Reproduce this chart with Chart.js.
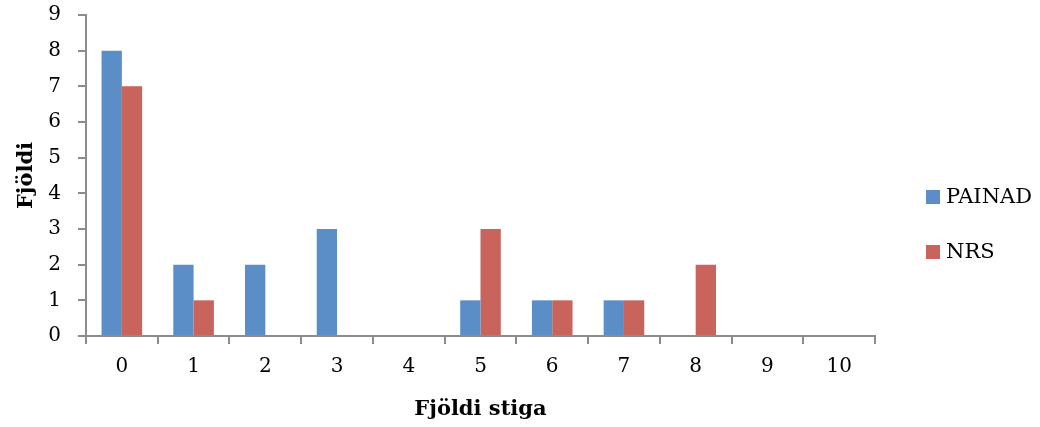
<!DOCTYPE html>
<html>
<head>
<meta charset="utf-8">
<script src="https://cdn.jsdelivr.net/npm/chart.js@4"></script>
<style>
  html, body { margin: 0; padding: 0; background: #fff; }
  #wrap { width: 1040px; height: 427px; }
</style>
</head>
<body>
<div id="wrap"><canvas id="grafico"></canvas></div>
<script>
// dados
const categorias = ['0', '1', '2', '3', '4', '5', '6', '7', '8', '9', '10'];
const painad = [8, 2, 2, 3, 0, 1, 1, 1, 0, 0, 0];
const nrs = [7, 1, 0, 0, 0, 3, 1, 1, 2, 0, 0];
const nomesSeries = ['PAINAD', 'NRS'];
const coresSeries = ['#5B8EC7', '#C8645B'];

const fonte = '"DejaVu Serif", "Liberation Serif", serif';
const cinza = '#8C8C8C';

// legenda desenhada à mão, à direita
const legendaPlugin = {
    id: 'legendaDireita',
    afterDraw(chart) {
        const ctx = chart.ctx;
        const ys = [197, 252];
        ctx.save();
        ctx.font = '21px ' + fonte;
        ctx.textBaseline = 'middle';
        chart.data.datasets.forEach((ds, i) => {
            ctx.fillStyle = ds.backgroundColor;
            ctx.fillRect(926, ys[i] - 7, 14, 14);
            ctx.fillStyle = '#000';
            ctx.fillText(ds.label, 946, ys[i] + 1);
        });
        ctx.restore();
    }
};

const ctx = document.getElementById('grafico').getContext('2d');
const grafico = new Chart(ctx, {
    type: 'bar',
    data: {
        labels: categorias,
        datasets: [
            { label: nomesSeries[0], data: painad, backgroundColor: coresSeries[0] },
            { label: nomesSeries[1], data: nrs, backgroundColor: coresSeries[1] }
        ]
    },
    options: {
        responsive: true,
        maintainAspectRatio: false,
        animation: false,
        layout: { padding: { top: 15, right: 165, left: 0, bottom: 0 } },
        datasets: { bar: { barPercentage: 1, categoryPercentage: 0.566, borderWidth: 0 } },
        plugins: {
            legend: { display: false },
            tooltip: { enabled: false }
        },
        scales: {
            x: {
                offset: true,
                grid: { display: true, offset: true, drawOnChartArea: false, drawTicks: true, tickLength: 8, color: cinza, lineWidth: 2 },
                border: { display: true, color: cinza, width: 2 },
                ticks: { color: '#000', font: { family: fonte, size: 20 }, padding: 11, maxRotation: 0 },
                title: { display: true, text: 'Fjöldi stiga', color: '#000', font: { family: fonte, size: 21, weight: 'bold' }, padding: { top: 0, bottom: 5 } },
                afterFit(scale) { scale.height = 91; scale.paddingLeft = 0; scale.paddingRight = 0; }
            },
            y: {
                min: 0,
                max: 9,
                ticks: { stepSize: 1, color: '#000', font: { family: fonte, size: 20 }, padding: 17 },
                grid: { display: true, drawOnChartArea: false, drawTicks: true, tickLength: 8, color: cinza, lineWidth: 2 },
                border: { display: true, color: cinza, width: 2 },
                title: { display: true, text: 'Fjöldi', color: '#000', font: { family: fonte, size: 21, weight: 'bold' }, padding: { top: 14, bottom: 0 } },
                afterFit(scale) { scale.width = 86; scale.paddingTop = 0; scale.paddingBottom = 0; }
            }
        }
    },
    plugins: [legendaPlugin]
});
</script>
</body>
</html>
